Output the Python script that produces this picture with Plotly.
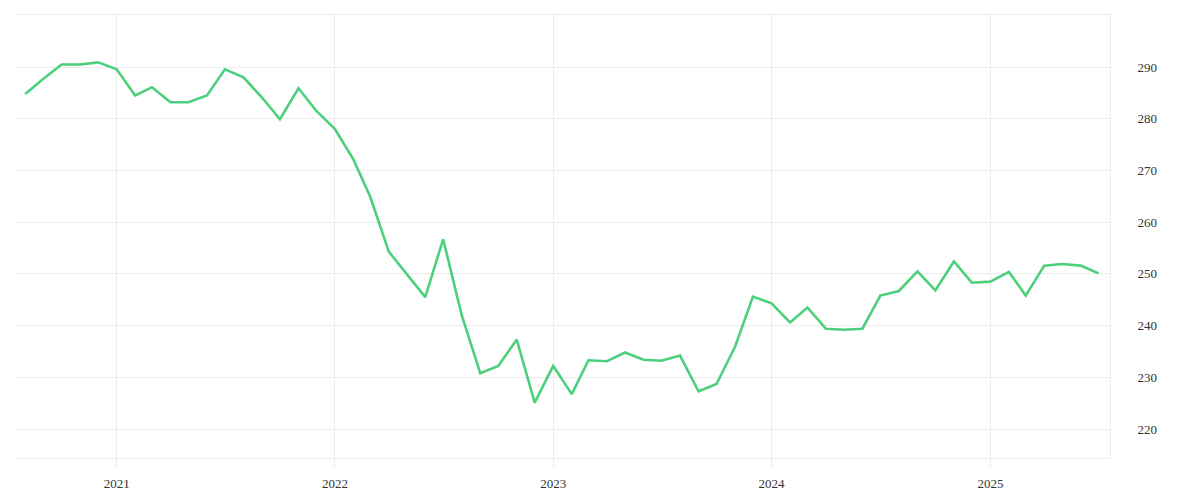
import plotly.graph_objects as go
import pandas as pd

dates = pd.date_range("2020-08-01", "2025-07-01", freq="MS")
values = [
    284.8, 287.8, 290.5, 290.5, 290.9,
    289.55, 284.5, 286.1, 283.2, 283.2, 284.5, 289.55, 288.0, 284.1, 279.9, 285.9, 281.5,
    278.0, 272.1, 264.9, 254.3, 250.0, 245.5, 256.7, 242.0, 230.8, 232.2, 237.3, 225.1,
    232.2, 226.75, 233.3, 233.1, 234.8, 233.4, 233.2, 234.2, 227.3, 228.7, 235.9, 245.6,
    244.3, 240.6, 243.5, 239.4, 239.2, 239.4, 245.8, 246.7, 250.5, 246.8, 252.4, 248.3,
    248.5, 250.4, 245.8, 251.6, 251.9, 251.6, 250.1,
]
y_ticks = [220, 230, 240, 250, 260, 270, 280, 290]
x_ticks = ["2021-01-01", "2022-01-01", "2023-01-01", "2024-01-01", "2025-01-01"]
x_labels = ["2021", "2022", "2023", "2024", "2025"]

fig = go.Figure()
fig.add_trace(go.Scatter(
    x=dates, y=values, mode="lines",
    line=dict(color="#4dd07b", width=2.6),
    hoverinfo="x+y",
))

grid = "#ececec"
fig.update_layout(
    width=1200, height=500,
    margin=dict(l=7, r=98, t=7, b=50, autoexpand=False),
    paper_bgcolor="white", plot_bgcolor="white",
    showlegend=False,
    font=dict(family="Liberation Serif", size=13, color="#333333"),
    xaxis=dict(
        range=["2020-07-15", "2025-07-20"],
        tickvals=x_ticks, ticktext=x_labels,
        showgrid=True, gridcolor=grid, gridwidth=1,
        ticks="outside", ticklen=10, tickcolor=grid,
        showline=True, linecolor=grid, mirror=True,
        zeroline=False, ticklabelstandoff=3, automargin=False,
    ),
    yaxis=dict(
        range=[214.4, 300.06], side="right",
        tickvals=y_ticks,
        showgrid=True, gridcolor=grid, gridwidth=1,
        showline=True, linecolor=grid,
        zeroline=False, ticks="", ticklabelstandoff=24, automargin=False,
    ),
)

fig.write_html("out.html")
